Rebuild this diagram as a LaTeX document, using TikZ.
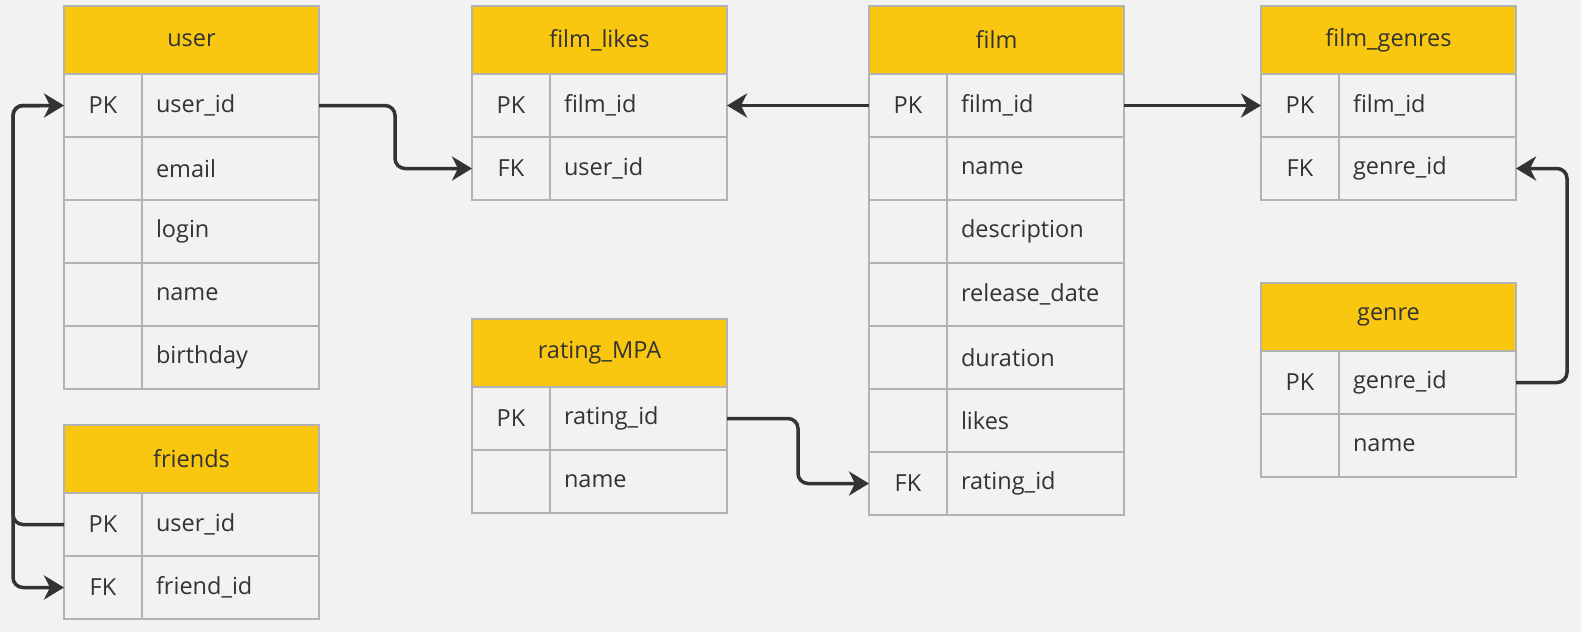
\documentclass[tikz,border=0pt]{standalone}
\usepackage{fontspec}
\setmainfont{Open Sans}
\usetikzlibrary{arrows.meta}
\definecolor{bggray}{HTML}{F2F2F2}
\definecolor{cellgray}{HTML}{F2F2F2}
\definecolor{gridgray}{HTML}{B3B3B3}
\definecolor{headyellow}{HTML}{FAC710}
\definecolor{textgray}{HTML}{333333}
\definecolor{linkgray}{HTML}{333333}
\tikzset{
  headcell/.style={draw=gridgray, fill=headyellow, line width=1.5pt, anchor=north west, outer sep=0pt,
    minimum width=255pt, minimum height=68pt, inner sep=0pt, text=textgray},
  keycell/.style={draw=gridgray, fill=cellgray, line width=1.5pt, anchor=north west, outer sep=0pt,
    minimum width=78pt, minimum height=63pt, inner sep=0pt, text=textgray},
  fieldcell/.style={draw=gridgray, fill=cellgray, line width=1.5pt, anchor=north west, outer sep=0pt,
    text width=149pt, inner xsep=14pt, inner ysep=0pt, minimum height=63pt, align=left, text=textgray},
  link/.style={draw=linkgray, line width=3.5pt, rounded corners=10pt,
    -{Stealth[length=20pt,width=24pt,inset=6pt]}}
}
% table: name, x, y, title, key/field list
\newcommand{\ertable}[5]{%
  \node[headcell] (#1) at (#2,#3) {#4};
  \foreach \k/\f [count=\i] in {#5} {
    \node[keycell] (#1-k\i) at ({#2},{#3+5+63*\i}) {\k};
    \node[fieldcell] (#1-\i) at ({#2+78},{#3+5+63*\i}) {\f};
  }
}
\begin{document}
\begin{tikzpicture}[x=1pt,y=-1pt,font=\fontsize{23.5}{28}\selectfont]
        \useasboundingbox (0,0) rectangle (1581,632);
        \fill[bggray] (0,0) rectangle (1581,632);
        %tables
        \ertable{user}{64}{6}{user}{PK/user\_id, /email, /login, /name, /birthday}
        \ertable{friends}{64}{425}{friends}{PK/user\_id, FK/friend\_id}
        \ertable{likes}{472}{6}{film\_likes}{PK/film\_id, FK/user\_id}
        \ertable{rating}{472}{319}{rating\_MPA}{PK/rating\_id, /name}
        \ertable{film}{869}{6}{film}{PK/film\_id, /name, /description, /release\_date, /duration, /likes, FK/rating\_id}
        \ertable{genres}{1261}{6}{film\_genres}{PK/film\_id, FK/genre\_id}
        \ertable{genre}{1261}{283}{genre}{PK/genre\_id, /name}
        %links
        \draw[link] (user-1.east) -- ++(76,0) |- (likes-k2.west);
        \draw[link] (film-k1.west) -- (likes-1.east);
        \draw[link] (film-1.east) -- (genres-k1.west);
        \draw[link] (genre-1.east) -- ++(51,0) |- (genres-2.east);
        \draw[link] (rating-1.east) -- ++(71,0) |- (film-k7.west);
        \draw[link] (friends-k1.west) -- ++(-51,0) |- (user-k1.west);
        \draw[link] ([xshift=-24pt]user-k1.west) -- ++(-27,0) |- (friends-k2.west);
\end{tikzpicture}
\end{document}
